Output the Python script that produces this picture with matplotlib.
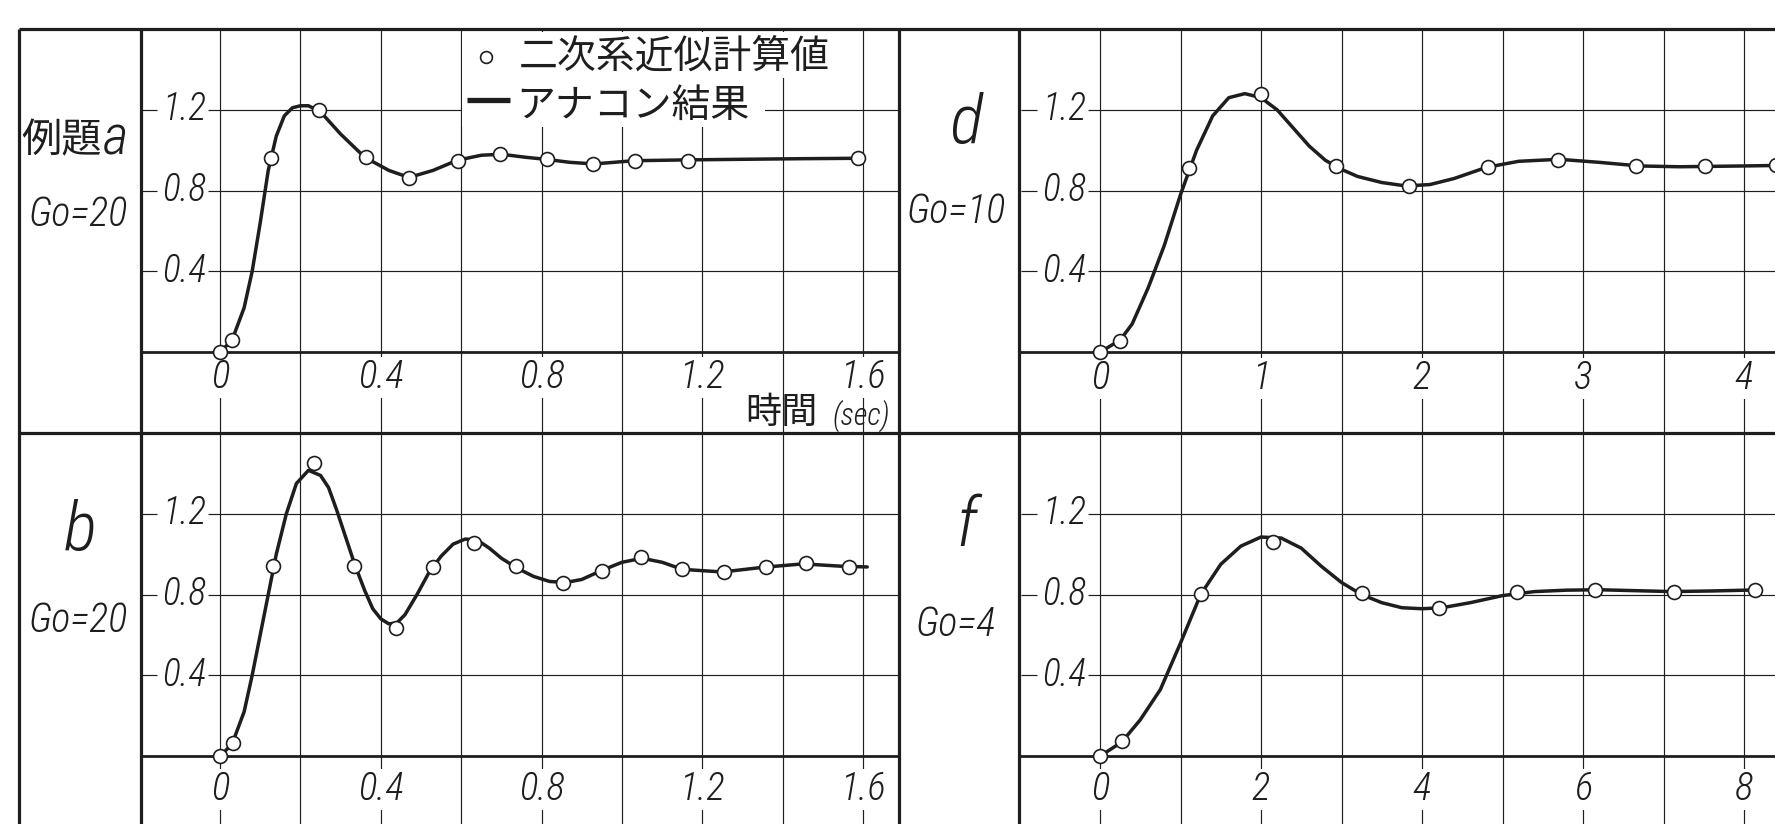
import numpy as np
import matplotlib.pyplot as plt
from matplotlib import font_manager as fm
from matplotlib.patches import Rectangle

W, H = 1775, 824
INK = '#1e1e1e'


def pick_font(names):
    for n in names:
        try:
            fm.findfont(fm.FontProperties(family=n), fallback_to_default=False)
            return n
        except ValueError:
            continue
    return 'DejaVu Sans'


LATIN = pick_font(['Liberation Sans Narrow', 'Roboto Condensed', 'Roboto', 'DejaVu Sans'])
CJK = pick_font(['Noto Sans CJK JP', 'Noto Sans CJK SC'])

# --- example a (Go=20), time in sec
a_pts_x = [0.0, 0.03, 0.126, 0.246, 0.364, 0.471, 0.593, 0.697, 0.814, 0.929, 1.033, 1.164, 1.586]
a_pts_y = [0.0, 0.058, 0.962, 1.20, 0.965, 0.863, 0.949, 0.979, 0.954, 0.932, 0.949, 0.949, 0.962]
a_curve_x = [0, 0.03, 0.06, 0.08, 0.10, 0.12, 0.14, 0.16, 0.18, 0.20, 0.22, 0.25, 0.30, 0.36,
             0.42, 0.47, 0.53, 0.59, 0.65, 0.70, 0.76, 0.81, 0.87, 0.93, 1.03, 1.16, 1.30, 1.45, 1.59]
a_curve_y = [0, 0.06, 0.22, 0.40, 0.64, 0.90, 1.07, 1.17, 1.21, 1.22, 1.22, 1.19, 1.08, 0.965,
             0.90, 0.865, 0.90, 0.95, 0.975, 0.98, 0.965, 0.955, 0.94, 0.932, 0.948, 0.952, 0.955, 0.958, 0.96]

# --- example b (Go=20)
b_pts_x = [0.0, 0.033, 0.133, 0.233, 0.333, 0.439, 0.531, 0.633, 0.736, 0.853, 0.95, 1.047,
           1.15, 1.253, 1.357, 1.457, 1.564]
b_pts_y = [0.0, 0.066, 0.944, 1.452, 0.944, 0.637, 0.935, 1.055, 0.944, 0.856, 0.919, 0.985,
           0.927, 0.911, 0.935, 0.955, 0.939]
b_curve_x = [0, 0.03, 0.06, 0.08, 0.10, 0.12, 0.14, 0.165, 0.19, 0.22, 0.25, 0.27, 0.29, 0.31,
             0.335, 0.36, 0.38, 0.40, 0.42, 0.44, 0.46, 0.49, 0.52, 0.55, 0.58, 0.61, 0.64, 0.67,
             0.70, 0.74, 0.78, 0.82, 0.86, 0.90, 0.95, 1.00, 1.05, 1.10, 1.15, 1.25, 1.35, 1.45,
             1.55, 1.61]
b_curve_y = [0, 0.06, 0.22, 0.40, 0.60, 0.80, 1.00, 1.20, 1.35, 1.415, 1.39, 1.33, 1.22, 1.10,
             0.95, 0.82, 0.73, 0.68, 0.655, 0.66, 0.70, 0.80, 0.91, 0.99, 1.05, 1.075, 1.07, 1.03,
             0.98, 0.93, 0.89, 0.865, 0.86, 0.875, 0.92, 0.96, 0.98, 0.96, 0.925, 0.912, 0.935, 0.952,
             0.94, 0.937]

# --- example d (Go=10)
d_pts_x = [0.0, 0.125, 0.554, 1.0, 1.464, 1.918, 2.41, 2.846, 3.332, 3.76, 4.2]
d_pts_y = [0.0, 0.057, 0.91, 1.279, 0.921, 0.823, 0.918, 0.951, 0.921, 0.921, 0.925]
d_curve_x = [0, 0.125, 0.2, 0.3, 0.4, 0.5, 0.6, 0.7, 0.8, 0.9, 1.0, 1.1, 1.2, 1.3, 1.4, 1.5,
             1.6, 1.75, 1.9, 2.05, 2.2, 2.4, 2.6, 2.85, 3.1, 3.35, 3.6, 3.8, 4.0, 4.25]
d_curve_y = [0, 0.06, 0.14, 0.32, 0.53, 0.78, 1.00, 1.17, 1.26, 1.28, 1.26, 1.20, 1.11, 1.02,
             0.95, 0.905, 0.87, 0.84, 0.823, 0.83, 0.86, 0.915, 0.945, 0.955, 0.94, 0.922, 0.918,
             0.92, 0.922, 0.925]

# --- example f (Go=4)
f_pts_x = [0.0, 0.27, 1.26, 2.15, 3.25, 4.21, 5.18, 6.15, 7.13, 8.14]
f_pts_y = [0.0, 0.074, 0.803, 1.062, 0.807, 0.733, 0.811, 0.823, 0.815, 0.823]
f_curve_x = [0, 0.27, 0.5, 0.75, 1.0, 1.25, 1.5, 1.75, 2.0, 2.25, 2.5, 2.75, 3.0, 3.25, 3.5,
             3.75, 4.0, 4.25, 4.6, 5.0, 5.4, 5.8, 6.2, 6.6, 7.1, 7.6, 8.14]
f_curve_y = [0, 0.07, 0.18, 0.33, 0.56, 0.80, 0.95, 1.04, 1.085, 1.08, 1.03, 0.94, 0.86, 0.80,
             0.76, 0.735, 0.73, 0.735, 0.76, 0.795, 0.815, 0.822, 0.824, 0.82, 0.815, 0.818, 0.823]

left_grid = [0, 0.2, 0.4, 0.6, 0.8, 1.0, 1.2, 1.4, 1.6]
left_ticks = [0, 0.4, 0.8, 1.2, 1.6]
left_labels = ['0', '0.4', '0.8', '1.2', '1.6']
d_grid = [0, 0.5, 1, 1.5, 2, 2.5, 3, 3.5, 4]
d_ticks = [0, 1, 2, 3, 4]
d_labels = ['0', '1', '2', '3', '4']
f_grid = [0, 1, 2, 3, 4, 5, 6, 7, 8]
f_ticks = [0, 2, 4, 6, 8]
f_labels = ['0', '2', '4', '6', '8']
y_ticks = [0.4, 0.8, 1.2]
y_labels = ['0.4', '0.8', '1.2']

legend_pts = '二次系近似計算値'
legend_line = 'アナコン結果'

# layout in pixels of the scanned sheet
PY = 202.0          # pixels per unit of response
ROW_TOP = (29, 433)
ROW_BOT = (433, 824)
panels = [
    dict(box=(141, 899), row=ROW_TOP, zero=220, scale=402, grid=left_grid, ticks=left_ticks,
         labels=left_labels, px=a_pts_x, py=a_pts_y, cx=a_curve_x, cy=a_curve_y, lab_y=-0.125),
    dict(box=(141, 899), row=ROW_BOT, zero=220, scale=402, grid=left_grid, ticks=left_ticks,
         labels=left_labels, px=b_pts_x, py=b_pts_y, cx=b_curve_x, cy=b_curve_y, lab_y=-0.165),
    dict(box=(1019, 1775), row=ROW_TOP, zero=1100, scale=161, grid=d_grid, ticks=d_ticks,
         labels=d_labels, px=d_pts_x, py=d_pts_y, cx=d_curve_x, cy=d_curve_y, lab_y=-0.13),
    dict(box=(1019, 1775), row=ROW_BOT, zero=1100, scale=80.5, grid=f_grid, ticks=f_ticks,
         labels=f_labels, px=f_pts_x, py=f_pts_y, cx=f_curve_x, cy=f_curve_y, lab_y=-0.165),
]

fig = plt.figure(figsize=(W / 100, H / 100), dpi=100)
fig.patch.set_facecolor('white')

num_font = dict(family=LATIN, style='italic', fontstretch='condensed', weight='light', color=INK)

for p in panels:
    l, r = p['box']
    t, b = p['row']
    z, s = p['zero'], p['scale']
    ax = fig.add_axes([l / W, 1 - b / H, (r - l) / W, (b - t) / H])
    ax.set_axis_off()
    x0, x1 = (l - z) / s, (r - z) / s
    ax.set_xlim(x0, x1)
    ax.set_ylim(1.6 - (b - t) / PY, 1.6)

    for gx in p['grid']:
        ax.axvline(gx, color=INK, lw=0.85, zorder=1)
    for yv, yl in zip(y_ticks, y_labels):
        ax.hlines(yv, -12 / s, x1, color=INK, lw=0.85, zorder=1)
        ax.hlines(yv, -79 / s, -63 / s, color=INK, lw=0.85, zorder=1)
        ax.text(-36 / s, yv, yl, ha='center', va='center', fontsize=27, **num_font)
    for tx, tl in zip(p['ticks'], p['labels']):
        ax.text(tx, p['lab_y'], tl, ha='center', va='center', fontsize=28, zorder=2,
                bbox=dict(boxstyle='square,pad=0.04', fc='white', ec='none'), **num_font)
    ax.axhline(0, color=INK, lw=2.0, zorder=2.6)

    ax.plot(p['cx'], p['cy'], color=INK, lw=2.5, solid_joinstyle='round',
            solid_capstyle='round', zorder=3)
    ax.plot(p['px'], p['py'], 'o', ms=10, mfc='white', mec=INK, mew=1.2, zorder=4,
            clip_on=True)

# overlay in sheet pixels: frame, captions, legend
ov = fig.add_axes([0, 0, 1, 1], zorder=5)
ov.set_axis_off()
ov.set_xlim(0, W)
ov.set_ylim(H, 0)

ov.hlines([29, 433], 19, W, color=INK, lw=2.3)
ov.vlines([19, 141, 899, 1019], 29, H, color=INK, lw=2.3)

# legend
ov.add_patch(Rectangle((462, 32), 393, 46, fc='white', ec='none'))
ov.add_patch(Rectangle((462, 78), 303, 49, fc='white', ec='none'))
ov.plot([486], [57], 'o', ms=8.5, mfc='white', mec=INK, mew=1.2)
ov.text(519, 57, legend_pts, fontsize=28, family=CJK, color=INK, ha='left', va='center')
ov.plot([467, 510], [100, 100], color=INK, lw=3.8, solid_capstyle='butt')
ov.text(516, 106, legend_line, fontsize=28, family=CJK, color=INK, ha='left', va='center')

# time axis caption
ov.text(781, 413, '時間', fontsize=26, family=CJK, color=INK, ha='center', va='center')
ov.text(861, 416, '(sec)', fontsize=22, ha='center', va='center', **num_font)

# panel captions
ov.text(62, 141, '例題', fontsize=29, family=CJK, color=INK, ha='center', va='center')
ov.text(116, 139, 'a', fontsize=40, ha='center', va='center', **num_font)
ov.text(78, 214, 'Go=20', fontsize=29, ha='center', va='center', **num_font)
ov.text(80, 531, 'b', fontsize=50, ha='center', va='center', **num_font)
ov.text(78, 621, 'Go=20', fontsize=29, ha='center', va='center', **num_font)
ov.text(966, 124, 'd', fontsize=50, ha='center', va='center', **num_font)
ov.text(956, 211, 'Go=10', fontsize=29, ha='center', va='center', **num_font)
ov.text(966, 527, 'f', fontsize=50, ha='center', va='center', **num_font)
ov.text(956, 625, 'Go=4', fontsize=29, ha='center', va='center', **num_font)

fig.savefig('out.png', dpi=100, facecolor='white')
